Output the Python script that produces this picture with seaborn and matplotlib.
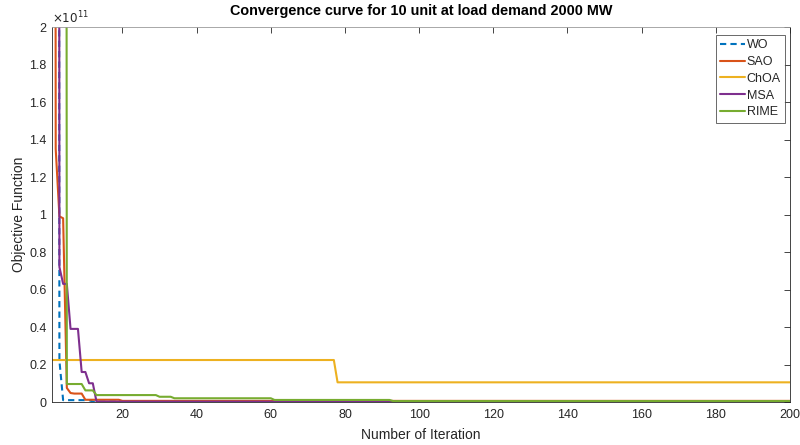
import numpy as np
import pandas as pd
import matplotlib
matplotlib.use("Agg")
import matplotlib.pyplot as plt
import seaborn as sns

n_iter = 200
series_names = ["WO", "SAO", "ChOA", "MSA", "RIME"]
# step plateaus: start iteration and value (x 1e11) held until next start
wo_start = [1, 2, 3, 4, 12]
wo_vals = [40.0, 30.0, 0.22, 0.01, 0.002]
sao_start = [1, 2, 3, 4, 5, 6, 7, 10, 20]
sao_vals = [25.0, 1.35, 0.99, 0.98, 0.075, 0.048, 0.045, 0.012, 0.006]
choa_start = [1, 78]
choa_vals = [0.224, 0.105]
msa_start = [1, 3, 4, 6, 9, 11, 13]
msa_vals = [35.0, 0.72, 0.63, 0.39, 0.16, 0.10, 0.002]
rime_start = [1, 5, 10, 13, 30, 34, 61, 93]
rime_vals = [30.0, 0.096, 0.062, 0.037, 0.028, 0.020, 0.011, 0.005]

colors = ["#0072BD", "#D95319", "#EDB120", "#7E2F8E", "#77AC30"]
dashes = [(3, 2), "", "", "", ""]

def expand(starts, vals):
    out = np.empty(n_iter)
    bounds = list(starts) + [n_iter + 1]
    for i, v in enumerate(vals):
        out[bounds[i] - 1:bounds[i + 1] - 1] = v
    return out

iters = np.arange(1, n_iter + 1)
frames = []
for name, s, v in zip(series_names,
                      [wo_start, sao_start, choa_start, msa_start, rime_start],
                      [wo_vals, sao_vals, choa_vals, msa_vals, rime_vals]):
    frames.append(pd.DataFrame({"Iteration": iters, "Value": expand(s, v) * 1e11, "Algorithm": name}))
df = pd.concat(frames, ignore_index=True)

sns.set_style("white")
plt.rcParams["font.family"] = ["Liberation Sans", "DejaVu Sans"]

fig = plt.figure(figsize=(8, 4.45), dpi=100)
ax = fig.add_axes([0.065, 0.0966, 0.9225, 0.8427])

sns.lineplot(data=df, x="Iteration", y="Value", hue="Algorithm", style="Algorithm",
             palette=colors, dashes=dashes, hue_order=series_names, style_order=series_names,
             linewidth=1.5, ax=ax, legend=True)

ax.set_xlim(1, 200)
ax.set_ylim(0, 2e11)
ax.set_xticks(np.arange(20, 201, 20))
yt = np.arange(0, 2.01, 0.2)
ax.set_yticks(yt * 1e11)
ax.set_yticklabels([("%g" % round(t, 1)) for t in yt])
ax.tick_params(direction="in", length=4, width=0.6, top=True, right=True,
               labelsize=9, colors="#262626")
ax.tick_params(axis="x", pad=5)
ax.tick_params(axis="y", pad=4)
for sp in ax.spines.values():
    sp.set_color("#262626")
    sp.set_linewidth(0.6)
ax.spines["top"].set_color("#9a9a9a")

ax.text(0.0, 1.003, r"$\times10^{11}$", transform=ax.transAxes, fontsize=8.6,
        color="#262626", ha="left", va="bottom")

ax.set_xlabel("Number of Iteration", fontsize=10, color="#262626", labelpad=5)
ax.set_ylabel("Objective Function", fontsize=10, color="#262626", labelpad=2)
ax.set_title("Convergence curve for 10 unit at load demand 2000 MW", fontsize=10.4,
             fontweight="bold", color="black", pad=9)

handles, labels = ax.get_legend_handles_labels()
leg = ax.legend(handles, labels, loc="upper right", bbox_to_anchor=(0.9935, 0.979),
                fontsize=9, frameon=True, fancybox=False, edgecolor="#262626",
                handlelength=2.0, handletextpad=0.1, borderpad=0.35,
                labelspacing=0.38, borderaxespad=0.0)
leg.get_frame().set_linewidth(0.6)

fig.savefig("out.png", dpi=100)
